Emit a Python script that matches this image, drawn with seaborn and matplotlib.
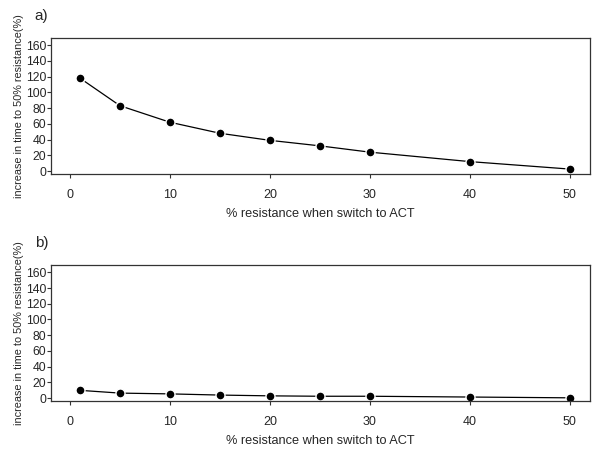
import numpy as np
import pandas as pd
import matplotlib
matplotlib.use("Agg")
import matplotlib.pyplot as plt
import seaborn as sns

# % resistance when switching to ACT
resistance = [1, 5, 10, 15, 20, 25, 30, 40, 50]
# increase in time to 50% resistance (%)
increase_a = [118, 83, 62, 48, 39, 32, 24, 12, 2.5]
increase_b = [10, 6.5, 5.5, 4, 3, 2.5, 2.5, 1.5, 0.5]

x_ticks = [0, 10, 20, 30, 40, 50]
y_ticks = [0, 20, 40, 60, 80, 100, 120, 140, 160]
panel_labels = ["a)", "b)"]

sns.set_style("ticks")
plt.rcParams['font.family'] = ['Liberation Sans', 'DejaVu Sans']

fig = plt.figure(figsize=(6, 4.58), dpi=100)
ax_a = fig.add_axes([0.085, 0.620, 0.898, 0.297])
ax_b = fig.add_axes([0.085, 0.124, 0.898, 0.297])

for ax, vals, lab in zip([ax_a, ax_b], [increase_a, increase_b], panel_labels):
    df = pd.DataFrame({"res": resistance, "inc": vals})
    sns.lineplot(data=df, x="res", y="inc", ax=ax, color="black", linewidth=0.9,
                 marker="o", markersize=6.5, markerfacecolor="black",
                 markeredgecolor="white", markeredgewidth=1.0)
    ax.set_xlim(-1.9, 52)
    ax.set_ylim(-3.8, 169)
    ax.set_xticks(x_ticks)
    ax.set_yticks(y_ticks)
    ax.tick_params(axis="x", length=3, pad=8, labelsize=9, color="#333333")
    ax.tick_params(axis="y", length=3, pad=0.5, labelsize=8.8, color="#333333")
    for s in ax.spines.values():
        s.set_visible(True)
        s.set_color("#333333")
        s.set_linewidth(0.9)
    ax.set_xlabel("% resistance when switch to ACT", fontsize=9.2, labelpad=5)
    ax.set_ylabel("increase in time to 50% resistance(%)", fontsize=7.8, labelpad=1)
    ax.text(-0.03, 1.11, lab, transform=ax.transAxes, fontsize=11,
            ha="left", va="bottom")

fig.savefig("out.png", dpi=100)
